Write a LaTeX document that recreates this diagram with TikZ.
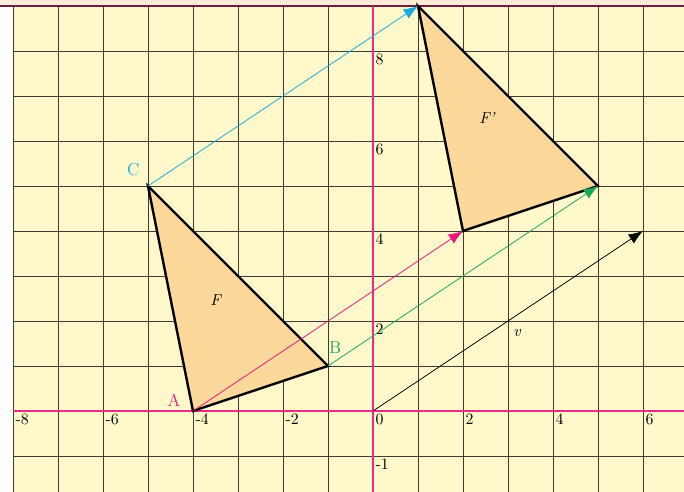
\documentclass[tikz,border=0pt]{standalone}
\usetikzlibrary{arrows.meta}
\definecolor{paper}{HTML}{FEF8CB}
\definecolor{strip}{HTML}{FDEBD8}
\definecolor{gridc}{HTML}{3F3A33}
\definecolor{axisc}{HTML}{EC2A8A}
\definecolor{fillc}{HTML}{FDD89B}
\definecolor{cyanc}{HTML}{1BA9E1}
\definecolor{greenc}{HTML}{17A85A}
\definecolor{magc}{HTML}{E8177E}
\definecolor{topc}{HTML}{6B2040}
\tikzset{
  tick/.style={font=\fontsize{10}{11}\selectfont, anchor=north west, inner sep=1.5pt},
  vec/.style={-{Latex[length=3.2mm,width=2.4mm]}, line width=0.5pt},
  tri/.style={draw=black, line width=1.5pt, fill=fillc, line join=miter},
  ptlabel/.style={font=\fontsize{11}{12}\selectfont, inner sep=1pt},
  itlabel/.style={font=\fontsize{10}{11}\selectfont\itshape, inner sep=1pt}
}
\begin{document}
\begin{tikzpicture}
\useasboundingbox (-8.289,-1.8) rectangle (6.911,9.133);
\fill[white] (-8.289,-1.8) rectangle (6.911,9.133);
\fill[paper] (-8,-1.8) rectangle (6.911,9);
\fill[strip] (-8.289,9) rectangle (6.911,9.133);
\draw[gridc, line width=0.6pt] (-8,-1.8) grid (6.911,9);
\draw[topc, line width=1.2pt] (-8.289,9) -- (6.911,9);
% axes
\draw[axisc, line width=0.8pt] (-8,0) -- (6.911,0);
\draw[axisc, line width=0.8pt] (0,-1.8) -- (0,9);
% tick labels
\foreach \x in {-8,-6,-4,-2,0,2,4,6} \node[tick] (tx\x) at (\x,0) {\x};
\foreach \y in {8,6,4,2,-1} \node[tick] (ty\y) at (0,\y) {\y};
% points
\coordinate (A) at (-4,0);
\coordinate (B) at (-1,1);
\coordinate (C) at (-5,5);
\coordinate (A2) at (2,4);
\coordinate (B2) at (5,5);
\coordinate (C2) at (1,9);
\coordinate (O) at (0,0);
\coordinate (V) at (6,4);
% triangles
\draw[tri] (A) -- (B) -- (C) -- cycle;
\draw[tri] (A2) -- (B2) -- (C2) -- cycle;
% vectors
\draw[vec, cyanc] (C) -- (C2);
\draw[vec, magc] (A) -- (A2);
\draw[vec, greenc] (B) -- (B2);
\draw[vec, black] (O) -- (V);
% labels
\node[ptlabel, text=magc] (la) at (-4.42,0.24) {A};
\node[ptlabel, text=greenc] (lb) at (-0.84,1.4) {B};
\node[ptlabel, text=cyanc] (lc) at (-5.33,5.36) {C};
\node[itlabel] (lf) at (-3.5,2.47) {F};
\node[itlabel] (lf2) at (2.53,6.51) {F’};
\node[itlabel] (lv) at (3.2,1.73) {v};
\end{tikzpicture}
\end{document}
